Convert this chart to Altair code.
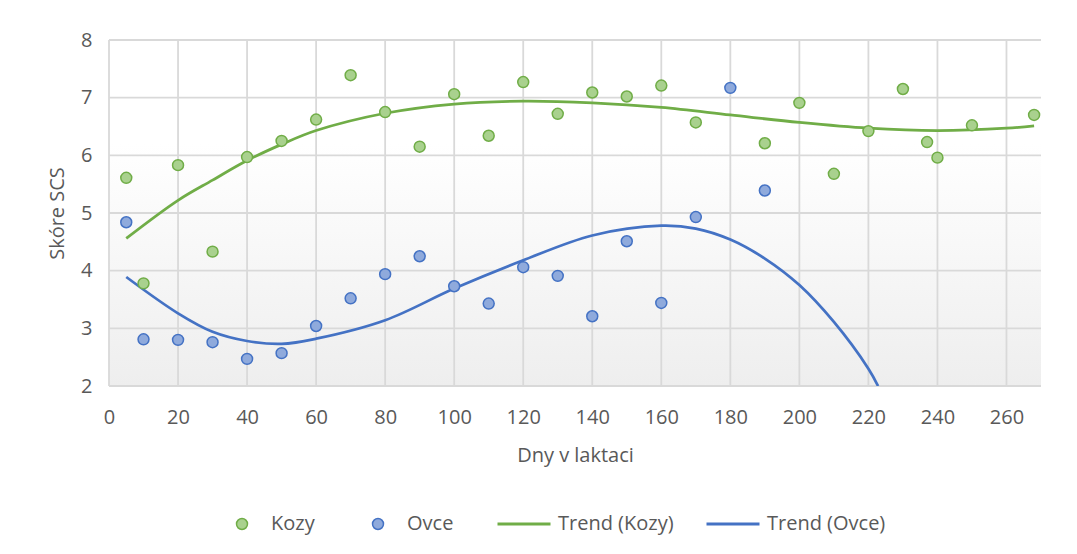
import altair as alt
import pandas as pd

# ---- data ----
kozy_x = [5, 10, 20, 30, 40, 50, 60, 70, 80, 90, 100, 110, 120, 130, 140, 150, 160, 170,
          190, 200, 210, 220, 230, 237, 240, 250, 268]
kozy_y = [5.61, 3.78, 5.83, 4.33, 5.97, 6.25, 6.62, 7.39, 6.75, 6.15, 7.06, 6.34, 7.27, 6.72,
          7.09, 7.02, 7.21, 6.57, 6.21, 6.91, 5.68, 6.42, 7.15, 6.23, 5.96, 6.52, 6.70]

ovce_x = [5, 10, 20, 30, 40, 50, 60, 70, 80, 90, 100, 110, 120, 130, 140, 150, 160, 170, 180, 190]
ovce_y = [4.84, 2.81, 2.80, 2.76, 2.47, 2.57, 3.04, 3.52, 3.94, 4.25, 3.73, 3.43, 4.06, 3.91,
          3.21, 4.51, 3.44, 4.93, 7.17, 5.39]

trend_kozy_x = [5, 20, 30, 40, 50, 60, 80, 100, 120, 140, 160, 180, 200, 220, 240, 260, 268]
trend_kozy_y = [4.56, 5.22, 5.57, 5.91, 6.19, 6.43, 6.73, 6.89, 6.94, 6.91, 6.83, 6.70, 6.57,
                6.47, 6.43, 6.47, 6.51]

trend_ovce_x = [5, 20, 30, 40, 50, 60, 80, 100, 120, 140, 160, 170, 180, 190, 200, 210, 220, 222.8]
trend_ovce_y = [3.89, 3.26, 2.94, 2.78, 2.73, 2.82, 3.14, 3.69, 4.18, 4.61, 4.78, 4.73, 4.54,
                4.21, 3.75, 3.11, 2.30, 2.00]

x_ticks = [0, 20, 40, 60, 80, 100, 120, 140, 160, 180, 200, 220, 240, 260]
y_ticks = [2, 3, 4, 5, 6, 7, 8]

point_series = ["Kozy", "Ovce"]
trend_series = ["Trend (Kozy)", "Trend (Ovce)"]
dark_colors = ["#70ad47", "#4472c4"]
light_colors = ["#a9d18e", "#8faadc"]

# ---- tables ----
pts = pd.DataFrame({
    "x": kozy_x + ovce_x,
    "y": kozy_y + ovce_y,
    "series": ["Kozy"] * len(kozy_x) + ["Ovce"] * len(ovce_x),
})
trend = pd.DataFrame({
    "x": trend_kozy_x + trend_ovce_x,
    "y": trend_kozy_y + trend_ovce_y,
    "trend": ["Trend (Kozy)"] * len(trend_kozy_x) + ["Trend (Ovce)"] * len(trend_ovce_x),
})
bg = pd.DataFrame({"x": [0], "x2": [270], "y": [2], "y2": [8]})
xg = pd.DataFrame({"x": x_ticks})
yg = pd.DataFrame({"y": y_ticks})

FONT = "Open Sans"
GRAY = "#595959"

x_scale = alt.Scale(domain=[0, 270], nice=False, zero=False)
y_scale = alt.Scale(domain=[2, 8], nice=False, zero=False)

x_axis = alt.Axis(values=x_ticks, grid=False, domain=False, ticks=False, labelPadding=21,
                  title="Dny v laktaci", titlePadding=18, labelFlush=False)
y_axis = alt.Axis(values=y_ticks, grid=False, domain=False, ticks=False, labelPadding=17,
                  title="Skóre SCS", titlePadding=13)


def X(field="x"):
    return alt.X(f"{field}:Q", scale=x_scale, axis=x_axis, title="Dny v laktaci")


def Y(field="y"):
    return alt.Y(f"{field}:Q", scale=y_scale, axis=y_axis, title="Skóre SCS")


gradient = alt.LinearGradient(
    gradient="linear", x1=0, x2=0, y1=0, y2=1,
    stops=[alt.GradientStop(offset=0, color="#ffffff"),
           alt.GradientStop(offset=0.3, color="#ffffff"),
           alt.GradientStop(offset=1, color="#eeeeee")],
)

background = alt.Chart(bg).mark_rect(color=gradient).encode(
    x=X("x"), x2="x2", y=Y("y"), y2="y2"
)

grid_x = alt.Chart(xg).mark_rule(color="#d9d9d9", strokeWidth=1.8).encode(x=X("x"))
grid_y = alt.Chart(yg).mark_rule(color="#d9d9d9", strokeWidth=1.8).encode(y=Y("y"))

common_leg = dict(orient="none", direction="horizontal", title=None, padding=0,
                  labelFont=FONT, labelFontSize=20, labelColor=GRAY, labelLimit=300,
                  clipHeight=20, gridAlign="each")

pt_legend = alt.Legend(legendX=123, legendY=474, columns=2, symbolType="circle",
                       symbolSize=120, symbolStrokeWidth=1.5, labelOffset=19,
                       columnPadding=53, symbolOpacity=1, **common_leg)
ln_legend = alt.Legend(legendX=387, legendY=474, columns=2, symbolType="stroke",
                       symbolSize=2809, symbolStrokeWidth=3, labelOffset=6,
                       columnPadding=31, **common_leg)

lines = alt.Chart(trend).mark_line(strokeWidth=2.75, interpolate="catmull-rom", clip=True).encode(
    x=X("x"), y=Y("y"),
    color=alt.Color("trend:N", scale=alt.Scale(domain=trend_series, range=dark_colors),
                    legend=ln_legend),
)

points = alt.Chart(pts).mark_point(filled=True, shape="circle", size=120, strokeWidth=1.5,
                                   opacity=1, fillOpacity=1).encode(
    x=X("x"), y=Y("y"),
    fill=alt.Fill("series:N", scale=alt.Scale(domain=point_series, range=light_colors),
                  legend=pt_legend),
    stroke=alt.Stroke("series:N", scale=alt.Scale(domain=point_series, range=dark_colors),
                      legend=pt_legend),
)

chart = alt.layer(background, grid_x, grid_y, lines, points).properties(
    width=932, height=346,
    autosize=alt.AutoSizeParams(type="none"),
    padding={"left": 101, "top": 32, "right": 28, "bottom": 160},
    background="white",
).configure_view(stroke=None).configure_axis(
    labelFont=FONT, labelFontSize=20, labelColor=GRAY,
    titleFont=FONT, titleFontSize=20, titleColor=GRAY, titleFontWeight="normal",
)

chart.save("out.html", embed_options={"renderer": "svg", "actions": False})
